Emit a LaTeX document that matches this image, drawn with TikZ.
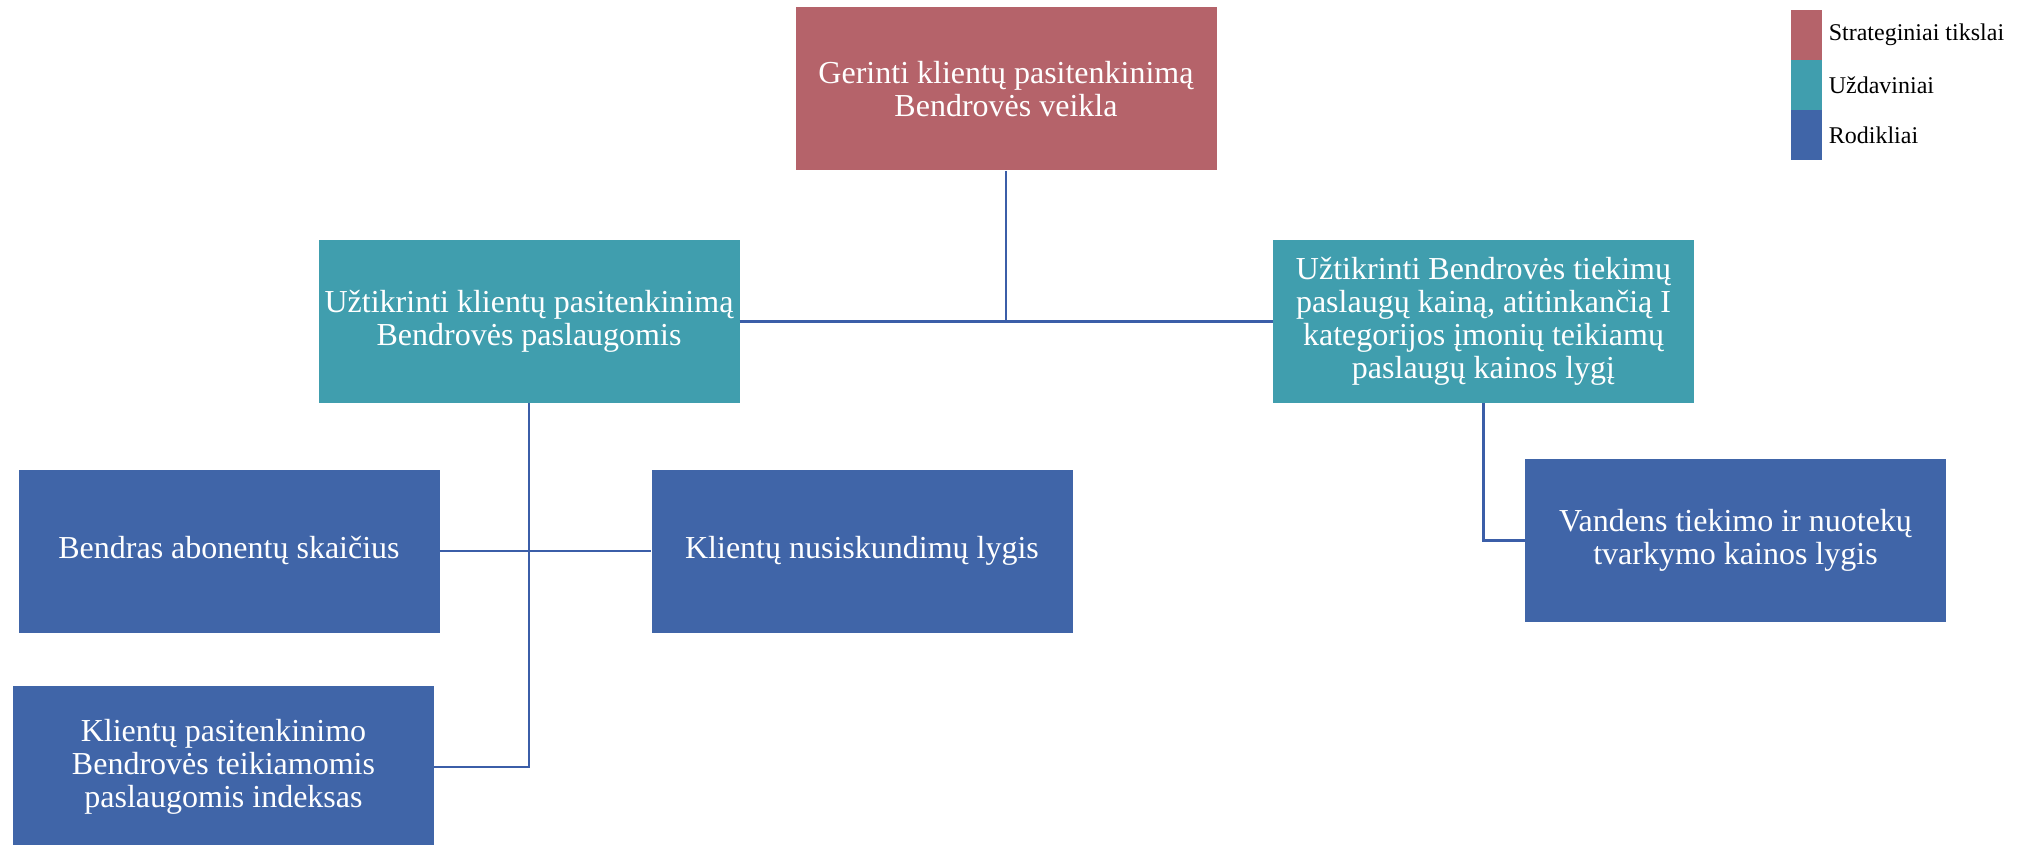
\documentclass[tikz,border=0pt]{standalone}
\usepackage{fontspec}
\setmainfont{Liberation Serif}
\definecolor{cRed}{RGB}{181,99,106}
\definecolor{cTeal}{RGB}{64,158,174}
\definecolor{cBlue}{RGB}{64,101,168}
\definecolor{cLine}{RGB}{59,94,168}
\tikzset{
  box/.style={inner sep=0pt, minimum width=210.5pt, minimum height=81.5pt, text=white, align=center,
    font=\fontsize{16}{16.5}\selectfont},
  goal/.style={box, fill=cRed},
  task/.style={box, fill=cTeal},
  ind/.style={box, fill=cBlue},
  conn/.style={draw=cLine, line width=1.2pt},
  legsq/.style={inner sep=0pt, minimum width=15.5pt, minimum height=25pt},
  legtxt/.style={anchor=west, inner sep=0pt, font=\fontsize{12}{13}\selectfont}
}
\begin{document}
\begin{tikzpicture}[x=0.5pt,y=-0.5pt]
\useasboundingbox (0,0) rectangle (2027,845);
\node[goal] (top) at (1006,89) {Gerinti klientų pasitenkinimą\\Bendrovės veikla};
\node[task] (L1) at (529,321.5) {Užtikrinti klientų pasitenkinimą\\Bendrovės paslaugomis};
\node[task] (R1) at (1483.5,321.5) {Užtikrinti Bendrovės tiekimų\\paslaugų kainą, atitinkančią I\\kategorijos įmonių teikiamų\\paslaugų kainos lygį};
\node[ind] (ben) at (229,551) {Bendras abonentų skaičius};
\node[ind] (nus) at (862,551) {Klientų nusiskundimų lygis};
\node[ind] (pas) at (223.5,767) {Klientų pasitenkinimo\\Bendrovės teikiamomis\\paslaugomis indeksas};
\node[ind] (van) at (1735.5,540.5) {Vandens tiekimo ir nuotekų\\tvarkymo kainos lygis};
% legend
\node[legsq, fill=cRed] (lg1) at (1806.5,35) {};
\node[legsq, fill=cTeal] (lg2) at (1806.5,85) {};
\node[legsq, fill=cBlue] (lg3) at (1806.5,135.5) {};
\node[legtxt] (lt1) at ([xshift=3pt]lg1.east) {Strateginiai tikslai};
\node[legtxt] (lt2) at ([xshift=3pt]lg2.east) {Uždaviniai};
\node[legtxt] (lt3) at ([xshift=3pt]lg3.east) {Rodikliai};
% connectors
\coordinate (hub) at (top.south |- L1.east);
\draw[conn] (top.south) -- (hub);
\draw[conn] (L1.east) -- (R1.west);
\draw[conn] (ben.east) -- (nus.west);
\draw[conn] (L1.south) |- (pas.east);
\draw[conn] (R1.south) |- (van.west);
\end{tikzpicture}
\end{document}
